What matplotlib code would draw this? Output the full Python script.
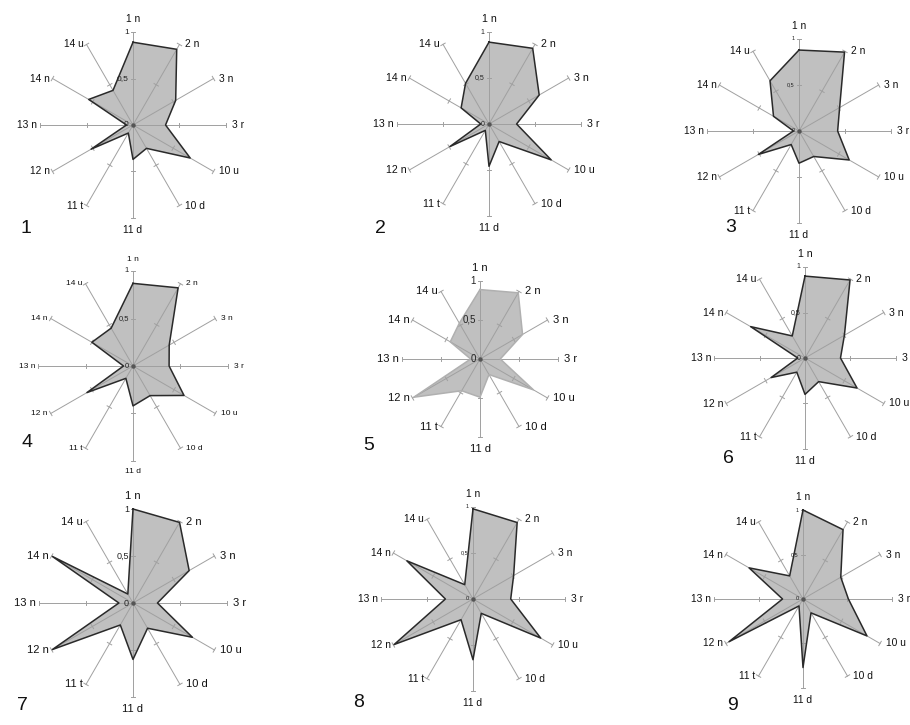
import numpy as np
import matplotlib
matplotlib.use("Agg")
import matplotlib.pyplot as plt

plt.rcParams['font.family'] = ['Liberation Sans', 'DejaVu Sans']

# spoke names, clockwise from the top
categories = ["1 n", "2 n", "3 n", "3 r", "10 u", "10 d",
              "11 d", "11 t", "12 n", "13 n", "14 n", "14 u"]

# normalised values per panel, same order as categories
panel_1 = [0.89, 0.94, 0.53, 0.35, 0.71, 0.29, 0.37, 0.10, 0.52, 0.07, 0.55, 0.43]
panel_2 = [0.89, 0.95, 0.63, 0.30, 0.78, 0.22, 0.46, 0.08, 0.49, 0.09, 0.35, 0.51]
panel_3 = [0.88, 0.99, 0.51, 0.42, 0.63, 0.32, 0.35, 0.17, 0.51, 0.06, 0.32, 0.63]
panel_4 = [0.87, 0.95, 0.44, 0.38, 0.62, 0.36, 0.42, 0.15, 0.56, 0.10, 0.50, 0.46]
panel_5 = [0.89, 0.98, 0.63, 0.26, 0.79, 0.23, 0.49, 0.47, 0.98, 0.12, 0.44, 0.53]
panel_6 = [0.90, 0.99, 0.50, 0.39, 0.66, 0.30, 0.40, 0.18, 0.43, 0.08, 0.69, 0.28]
panel_7 = [1.00, 0.99, 0.69, 0.26, 0.73, 0.31, 0.60, 0.27, 0.99, 0.15, 0.99, 0.11]
panel_8 = [0.98, 0.96, 0.51, 0.41, 0.85, 0.18, 0.66, 0.26, 0.99, 0.30, 0.83, 0.18]
panel_9 = [1.00, 0.90, 0.49, 0.51, 0.83, 0.18, 0.77, 0.09, 0.96, 0.23, 0.70, 0.30]

panel_values = [panel_1, panel_2, panel_3, panel_4, panel_5,
                panel_6, panel_7, panel_8, panel_9]
panel_names = ["1", "2", "3", "4", "5", "6", "7", "8", "9"]
radial_ticks = [0, 0.5, 1]
radial_tick_labels = ["0", "0,5", "1"]

# layout in pixels: centre x, centre y, radius
W, H = 910, 725
centres = [(133, 125, 93), (489, 124, 92), (799, 131, 92),
           (133, 366, 95), (480, 359, 78), (805, 358, 91),
           (133, 603, 94), (473, 599, 92), (803, 599, 89)]
number_pos = [(20, 233), (375, 233), (725, 232),
              (22, 447), (363, 450), (723, 463),
              (17, 710), (353, 707), (727, 710)]
label_sizes = [7.4, 7.7, 7.4, 6.0, 8.0, 7.6, 8.0, 7.4, 7.4]
tick_sizes = [6.0, 5.0, 4.0, 5.5, 7.0, 5.0, 6.5, 4.0, 4.0]
edge_colors = ["#2a2a2a"] * 9
edge_colors[4] = "#b0b0b0"

fill_color = "#c0c0c0"
spoke_color = "#a0a0a0"

fig = plt.figure(figsize=(W / 100, H / 100), dpi=100)

theta = np.deg2rad(np.arange(len(categories)) * 30.0)

for k, vals in enumerate(panel_values):
    cx, cy, R = centres[k]
    ax = fig.add_axes([(cx - R) / W, 1 - (cy + R) / H, 2 * R / W, 2 * R / H],
                      projection="polar")
    ax.set_theta_zero_location("N")
    ax.set_theta_direction(-1)
    ax.set_ylim(0, 1)
    ax.grid(False)
    ax.spines["polar"].set_visible(False)
    ax.set_xticks([])
    ax.set_yticks([])
    ax.patch.set_alpha(0)

    v = np.array(vals)
    th_c = np.append(theta, theta[0])
    v_c = np.append(v, v[0])
    ax.fill(th_c, v_c, color=fill_color, zorder=1, lw=0)

    # spokes with small cross ticks at 0.5 and 1
    for t in theta:
        ax.plot([t, t], [0, 1], color=spoke_color, lw=0.7, zorder=2, clip_on=False)
        for r in (0.5, 1.0):
            d = 2.5 / (R * r)
            ax.plot([t - d, t + d], [r, r], color=spoke_color, lw=0.7,
                    zorder=2, clip_on=False)

    ax.plot(th_c, v_c, color=edge_colors[k], lw=1.1, zorder=3, clip_on=False)
    ax.plot([0], [0], marker="o", ms=2.2, color="#555555", zorder=4)

    # spoke names
    for t, name in zip(theta, categories):
        deg = np.rad2deg(t) % 360
        if deg == 0:
            off, ha, va = (0, 6), "center", "bottom"
        elif deg == 180:
            off, ha, va = (0, -5), "center", "top"
        elif deg < 180:
            off, ha, va = (4, 0), "left", "center"
        else:
            off, ha, va = (-2, 0), "right", "center"
        ax.annotate(name, xy=(t, 1.0), xytext=off, textcoords="offset points",
                    ha=ha, va=va, fontsize=label_sizes[k], color="#111111",
                    annotation_clip=False)

    # radial scale labels along the top spoke
    for r, lab in zip(radial_ticks, radial_tick_labels):
        ax.annotate(lab, xy=(0, r), xytext=(-3, 0), textcoords="offset points",
                    ha="right", va="center", fontsize=tick_sizes[k],
                    color="#222222", annotation_clip=False)

    nx, ny = number_pos[k]
    fig.text(nx / W, 1 - ny / H, panel_names[k], fontsize=14,
             ha="left", va="baseline", color="#111111")

fig.savefig("out.png", dpi=100)
